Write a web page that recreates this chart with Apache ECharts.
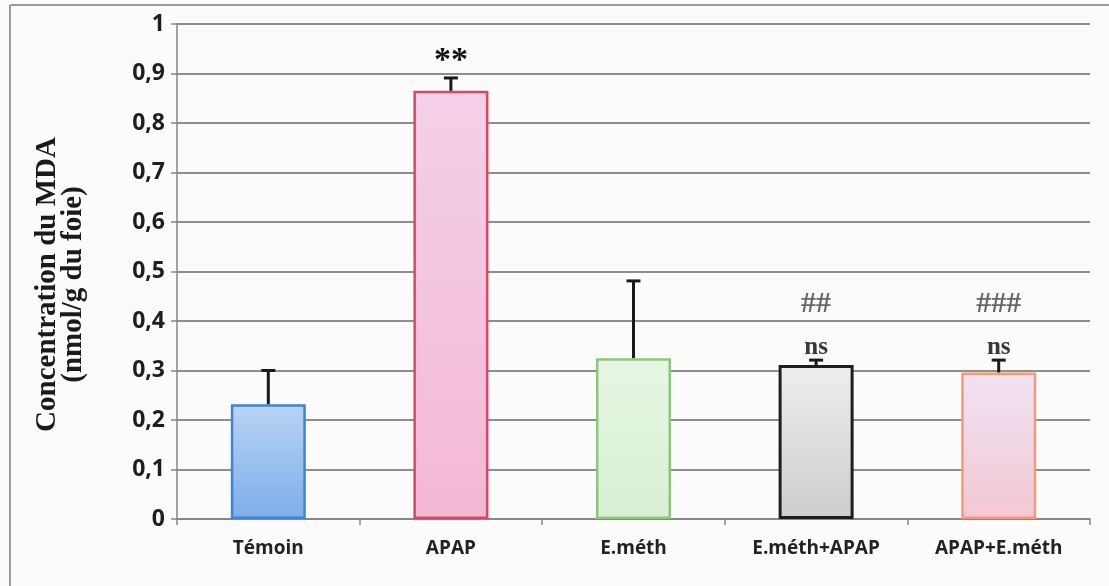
<!DOCTYPE html>
<html>
<head>
<meta charset="utf-8">
<title>Concentration du MDA</title>
<script src="https://cdn.jsdelivr.net/npm/echarts@6/dist/echarts.min.js"></script>
<style>
  html, body { margin: 0; padding: 0; background: #fbfbfb; }
  #chart { width: 1109px; height: 586px; }
</style>
</head>
<body>
<div id="chart"></div>
<script>
// Groups and measured MDA (nmol/g of liver), mean and SD
const categories = ['Témoin', 'APAP', 'E.méth', 'E.méth+APAP', 'APAP+E.méth'];
const meanValues = [0.232, 0.865, 0.325, 0.311, 0.296];
const sdValues = [0.068, 0.026, 0.156, 0.010, 0.025];
// Significance marks: versus control (first row) and versus APAP (second row)
const sigVsControl = ['', '**', '', 'ns', 'ns'];
const sigVsApap = ['', '', '', '##', '###'];
const yTickLabels = ['0', '0,1', '0,2', '0,3', '0,4', '0,5', '0,6', '0,7', '0,8', '0,9', '1'];

// Fill and outline for each group
const barStyles = [
  { top: '#b9d3f4', bottom: '#7dade9', border: '#3c84dc' },
  { top: '#f5d0e8', bottom: '#f3b8d3', border: '#da4762' },
  { top: '#e6f6e3', bottom: '#d9f0d4', border: '#8dc77f' },
  { top: '#eeeeee', bottom: '#cdcdcd', border: '#1e1e1e' },
  { top: '#efe3f3', bottom: '#f3c7d3', border: '#f49a76' }
];

const chart = echarts.init(document.getElementById('chart'), null, { renderer: 'canvas' });

const barData = meanValues.map((v, i) => ({
  value: v,
  itemStyle: {
    color: new echarts.graphic.LinearGradient(0, 0, 0, 1, [
      { offset: 0, color: barStyles[i].top },
      { offset: 1, color: barStyles[i].bottom }
    ]),
    borderColor: barStyles[i].border,
    borderWidth: i === 3 ? 3 : 2.5
  }
}));

const errData = meanValues.map((v, i) => [i, v + sdValues[i], v]);

const serif = '"Liberation Serif", "DejaVu Serif", serif';
const sans = '"Open Sans", Lato, sans-serif';

chart.setOption({
  backgroundColor: '#fbfbfb',
  animation: false,
  grid: { left: 177, right: 19, top: 24, bottom: 67, containLabel: false },
  xAxis: {
    type: 'category',
    data: categories,
    axisLine: { show: true, lineStyle: { color: '#858585', width: 1.5 } },
    axisTick: { show: true, alignWithLabel: false, length: 6, lineStyle: { color: '#858585', width: 1.5 } },
    axisLabel: {
      margin: 20,
      color: '#222222',
      fontFamily: sans,
      fontWeight: 'bold',
      fontSize: 19
    },
    splitLine: { show: false }
  },
  yAxis: {
    type: 'value',
    min: 0,
    max: 1,
    interval: 0.1,
    name: 'Concentration du MDA\n(nmol/g du foie)',
    nameLocation: 'middle',
    nameRotate: 90,
    nameGap: 90,
    nameTextStyle: {
      fontFamily: serif,
      fontWeight: 'bold',
      fontSize: 29,
      lineHeight: 26,
      color: '#1a1a1a',
      padding: [0, 26, 0, 0]
    },
    axisLine: { show: true, lineStyle: { color: '#858585', width: 1.5 } },
    axisTick: { show: true, length: 6, lineStyle: { color: '#858585', width: 1.5 } },
    axisLabel: {
      margin: 12,
      color: '#1e1e1e',
      fontFamily: sans,
      fontWeight: 'bold',
      fontSize: 23,
      formatter: (v) => yTickLabels[Math.round(v * 10)]
    },
    splitLine: { show: true, lineStyle: { color: '#6a6a6a', width: 1.5 } }
  },
  graphic: [
    { type: 'line', shape: { x1: 10, y1: 5, x2: 10, y2: 586 }, style: { stroke: '#9a9a9a', lineWidth: 2 }, z: 0 },
    { type: 'line', shape: { x1: 10, y1: 5, x2: 1109, y2: 5 }, style: { stroke: '#9a9a9a', lineWidth: 2 }, z: 0 }
  ],
  series: [
    {
      type: 'bar',
      data: barData,
      barWidth: 75,
      z: 2
    },
    {
      type: 'custom',
      coordinateSystem: 'cartesian2d',
      data: errData,
      encode: { x: 0, y: 1 },
      z: 3,
      renderItem: function (params, api) {
        const i = params.dataIndex;
        const hi = api.coord([api.value(0), api.value(1)]);
        const lo = api.coord([api.value(0), api.value(2)]);
        const cap = 7;
        const children = [
          { type: 'line', shape: { x1: hi[0], y1: lo[1], x2: hi[0], y2: hi[1] }, style: { stroke: '#1a1a1a', lineWidth: 3 } },
          { type: 'line', shape: { x1: hi[0] - cap, y1: hi[1], x2: hi[0] + cap, y2: hi[1] }, style: { stroke: '#1a1a1a', lineWidth: 3 } }
        ];
        if (sigVsControl[i]) {
          const isStar = sigVsControl[i].indexOf('*') >= 0;
          children.push({
            type: 'text',
            style: {
              x: hi[0], y: isStar ? hi[1] - 17 : hi[1] - 13,
              text: sigVsControl[i],
              align: 'center', verticalAlign: 'middle',
              font: 'bold ' + (isStar ? 34 : 25) + 'px ' + serif,
              fill: isStar ? '#111111' : '#383838'
            }
          });
        }
        if (sigVsApap[i]) {
          children.push({
            type: 'text',
            style: {
              x: hi[0], y: hi[1] - 56,
              text: sigVsApap[i],
              align: 'center', verticalAlign: 'middle',
              font: 'bold 30px ' + serif,
              fill: '#666666'
            }
          });
        }
        return { type: 'group', children: children };
      }
    }
  ]
});
</script>
</body>
</html>
